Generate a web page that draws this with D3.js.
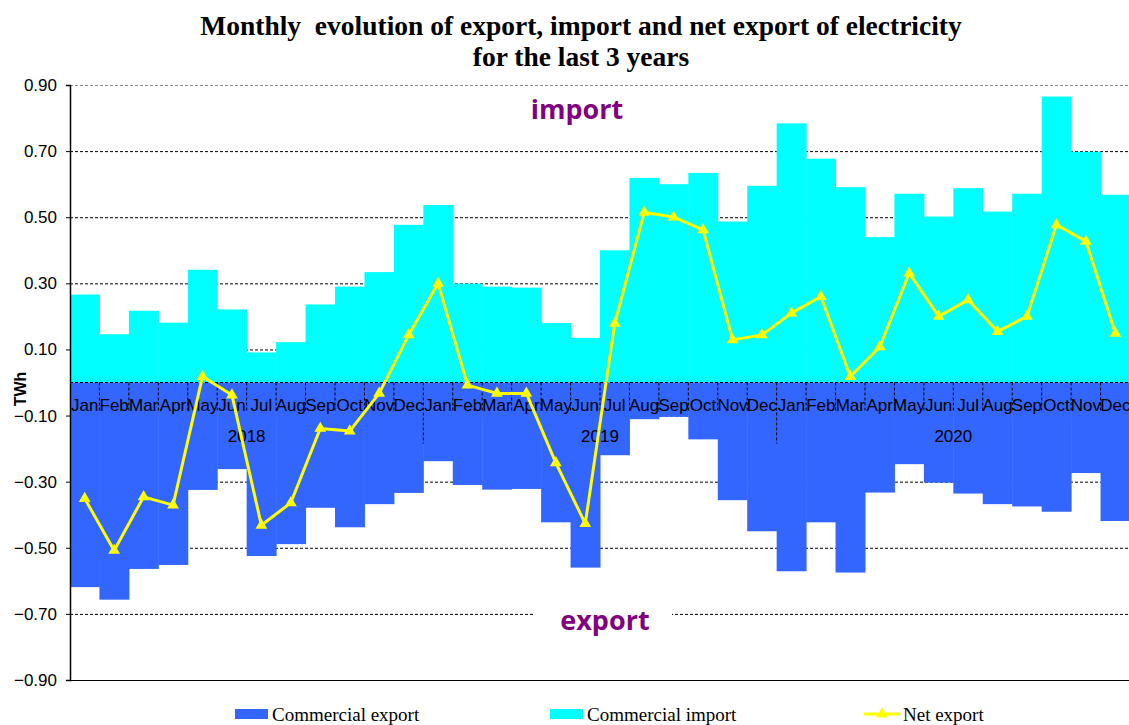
<!DOCTYPE html>
<html>
<head>
<meta charset="utf-8">
<script src="https://cdn.jsdelivr.net/npm/d3@7"></script>
<style>
  body { margin: 0; background: #fff; }
  svg { display: block; }
</style>
</head>
<body>
<svg id="chart" width="1129" height="725"></svg>
<script>
// Monthly data, Jan 2018 .. Dec 2020 (TWh)
const years = ['2018', '2019', '2020'];
const months = ['Jan', 'Feb', 'Mar', 'Apr', 'May', 'Jun', 'Jul', 'Aug', 'Sep', 'Oct', 'Nov', 'Dec'];

const importVals = [
  0.266, 0.146, 0.217, 0.181, 0.341, 0.221, 0.091, 0.122, 0.236, 0.290, 0.334, 0.477,
  0.537, 0.299, 0.290, 0.287, 0.180, 0.135, 0.400, 0.619, 0.600, 0.634, 0.487, 0.595,
  0.784, 0.677, 0.591, 0.440, 0.571, 0.502, 0.588, 0.517, 0.571, 0.865, 0.698, 0.568
];
const exportVals = [
  -0.619, -0.657, -0.564, -0.552, -0.325, -0.262, -0.525, -0.489, -0.379, -0.438, -0.368, -0.334,
  -0.238, -0.310, -0.324, -0.322, -0.423, -0.560, -0.220, -0.111, -0.104, -0.172, -0.356, -0.450,
  -0.571, -0.423, -0.575, -0.333, -0.247, -0.303, -0.336, -0.368, -0.375, -0.391, -0.274, -0.419
];
const netVals = [
  -0.351, -0.508, -0.346, -0.371, 0.018, -0.038, -0.432, -0.364, -0.139, -0.147, -0.033, 0.144,
  0.300, -0.008, -0.033, -0.033, -0.243, -0.427, 0.179, 0.515, 0.500, 0.462, 0.129, 0.144,
  0.210, 0.260, 0.018, 0.108, 0.331, 0.200, 0.250, 0.154, 0.200, 0.477, 0.427, 0.149
];
const yTicks = [0.9, 0.7, 0.5, 0.3, 0.1, -0.1, -0.3, -0.5, -0.7, -0.9];

const COLORS = {
  export: '#3366ff',
  import: '#00ffff',
  net:    '#ffff00',
  label:  '#800080'
};

const svg = d3.select('#chart');
const margin = { left: 70, right: 1130, top: 85, bottom: 680 };

const labels = d3.range(importVals.length);
const x = d3.scaleBand().domain(labels).range([margin.left, margin.right]).padding(0);
const y = d3.scaleLinear().domain([-0.9, 0.9]).range([margin.bottom, margin.top]);
const bw = x.bandwidth();

// Title (double space kept as in the original)
const title = svg.append('text')
  .attr('x', 581).attr('text-anchor', 'middle')
  .style('font-family', '"Liberation Serif", "Times New Roman", serif')
  .style('font-weight', 'bold').style('font-size', '27.5px')
  .style('white-space', 'pre');
title.append('tspan').attr('x', 581).attr('y', 35).text('Monthly  evolution of export, import and net export of electricity');
title.append('tspan').attr('x', 581).attr('y', 66).text('for the last 3 years');

// Gridlines (behind bars)
svg.append('g')
  .attr('transform', `translate(${margin.left},0)`)
  .call(d3.axisLeft(y).tickValues(yTicks).tickSize(-(margin.right - margin.left)).tickFormat(''))
  .call(g => g.select('.domain').remove())
  .call(g => g.selectAll('.tick line')
    .attr('stroke', d => d === 0.9 ? '#888' : '#000')
    .attr('stroke-dasharray', d => d === -0.9 ? null : '3,2'));

// Bars
svg.append('g').selectAll('rect.imp')
  .data(importVals).join('rect')
  .attr('class', 'imp')
  .attr('x', (d, i) => x(i)).attr('width', bw + 0.5)
  .attr('y', d => y(d)).attr('height', d => y(0) - y(d))
  .attr('fill', COLORS.import);

svg.append('g').selectAll('rect.exp')
  .data(exportVals).join('rect')
  .attr('class', 'exp')
  .attr('x', (d, i) => x(i)).attr('width', bw + 0.5)
  .attr('y', y(0)).attr('height', d => y(d) - y(0))
  .attr('fill', COLORS.export);

// "import" / "export" labels
const labelFont = '"Open Sans", "DejaVu Sans", sans-serif';
svg.append('text')
  .attr('x', 577).attr('y', 119).attr('text-anchor', 'middle')
  .style('font-family', labelFont).style('font-weight', 'bold').style('font-size', '27px')
  .attr('fill', COLORS.label).text('import');

svg.append('rect')
  .attr('x', 535).attr('y', 600).attr('width', 137).attr('height', 40)
  .attr('fill', '#fff');
svg.append('text')
  .attr('x', 605).attr('y', 630).attr('text-anchor', 'middle')
  .style('font-family', labelFont).style('font-weight', 'bold').style('font-size', '27px')
  .attr('fill', COLORS.label).text('export');

// Zero line + category ticks
svg.append('line')
  .attr('x1', margin.left).attr('x2', margin.right)
  .attr('y1', y(0)).attr('y2', y(0))
  .attr('stroke', '#000').attr('stroke-dasharray', '3,2');

const boundaries = d3.range(importVals.length + 1);
svg.append('g').selectAll('line')
  .data(boundaries.filter(i => i > 0 && i < importVals.length)).join('line')
  .attr('x1', i => x(0) + i * bw).attr('x2', i => x(0) + i * bw)
  .attr('y1', y(0)).attr('y2', i => i % 12 === 0 ? y(0) + 61 : y(0) + 30)
  .attr('stroke', '#000').attr('stroke-dasharray', '3,2');

const axisFont = '"Liberation Sans", Arial, sans-serif';
svg.append('g').selectAll('text')
  .data(labels).join('text')
  .attr('x', i => x(i) + bw / 2).attr('y', y(0) + 28)
  .attr('text-anchor', 'middle')
  .style('font-family', axisFont).style('font-size', '17px')
  .text(i => months[i % 12]);

svg.append('g').selectAll('text')
  .data(years).join('text')
  .attr('x', (d, k) => x(k * 12) + 6 * bw).attr('y', y(0) + 59)
  .attr('text-anchor', 'middle')
  .style('font-family', axisFont).style('font-size', '17px')
  .text(d => d);

// Y axis
svg.append('g')
  .attr('transform', `translate(${margin.left},0)`)
  .call(d3.axisLeft(y).tickValues(yTicks).tickSize(4).tickPadding(9).tickFormat(d3.format('.2f')))
  .call(g => g.select('.domain').attr('stroke', '#000').attr('stroke-width', 1.5))
  .call(g => g.selectAll('.tick text')
    .style('font-family', axisFont).style('font-size', '17px').attr('fill', '#000'));

svg.append('text')
  .attr('transform', `translate(26,389) rotate(-90)`)
  .attr('text-anchor', 'middle')
  .style('font-family', axisFont).style('font-weight', 'bold').style('font-size', '16px')
  .text('TWh');

// Net export line
const line = d3.line().x((d, i) => x(i) + bw / 2).y(d => y(d));
svg.append('path')
  .datum(netVals)
  .attr('d', line)
  .attr('fill', 'none').attr('stroke', COLORS.net).attr('stroke-width', 3)
  .attr('stroke-linejoin', 'round');

const tri = d3.symbol(d3.symbolTriangle).size(60);
svg.append('g').selectAll('path')
  .data(netVals).join('path')
  .attr('transform', (d, i) => `translate(${x(i) + bw / 2},${y(d)})`)
  .attr('d', tri)
  .attr('fill', COLORS.net);

// Legend
const legendFont = '"Liberation Serif", "Times New Roman", serif';
const legend = svg.append('g');
legend.append('rect').attr('x', 235).attr('y', 709).attr('width', 33).attr('height', 10).attr('fill', COLORS.export);
legend.append('text').attr('x', 272).attr('y', 721).text('Commercial export');
legend.append('rect').attr('x', 550).attr('y', 709).attr('width', 33).attr('height', 10).attr('fill', COLORS.import);
legend.append('text').attr('x', 587).attr('y', 721).text('Commercial import');
legend.append('line').attr('x1', 864).attr('x2', 900).attr('y1', 714).attr('y2', 714)
  .attr('stroke', COLORS.net).attr('stroke-width', 3);
legend.append('path').attr('transform', 'translate(882,714)').attr('d', tri).attr('fill', COLORS.net);
legend.append('text').attr('x', 903).attr('y', 721).text('Net export');
legend.selectAll('text')
  .style('font-family', legendFont).style('font-size', '19px');
</script>
</body>
</html>
